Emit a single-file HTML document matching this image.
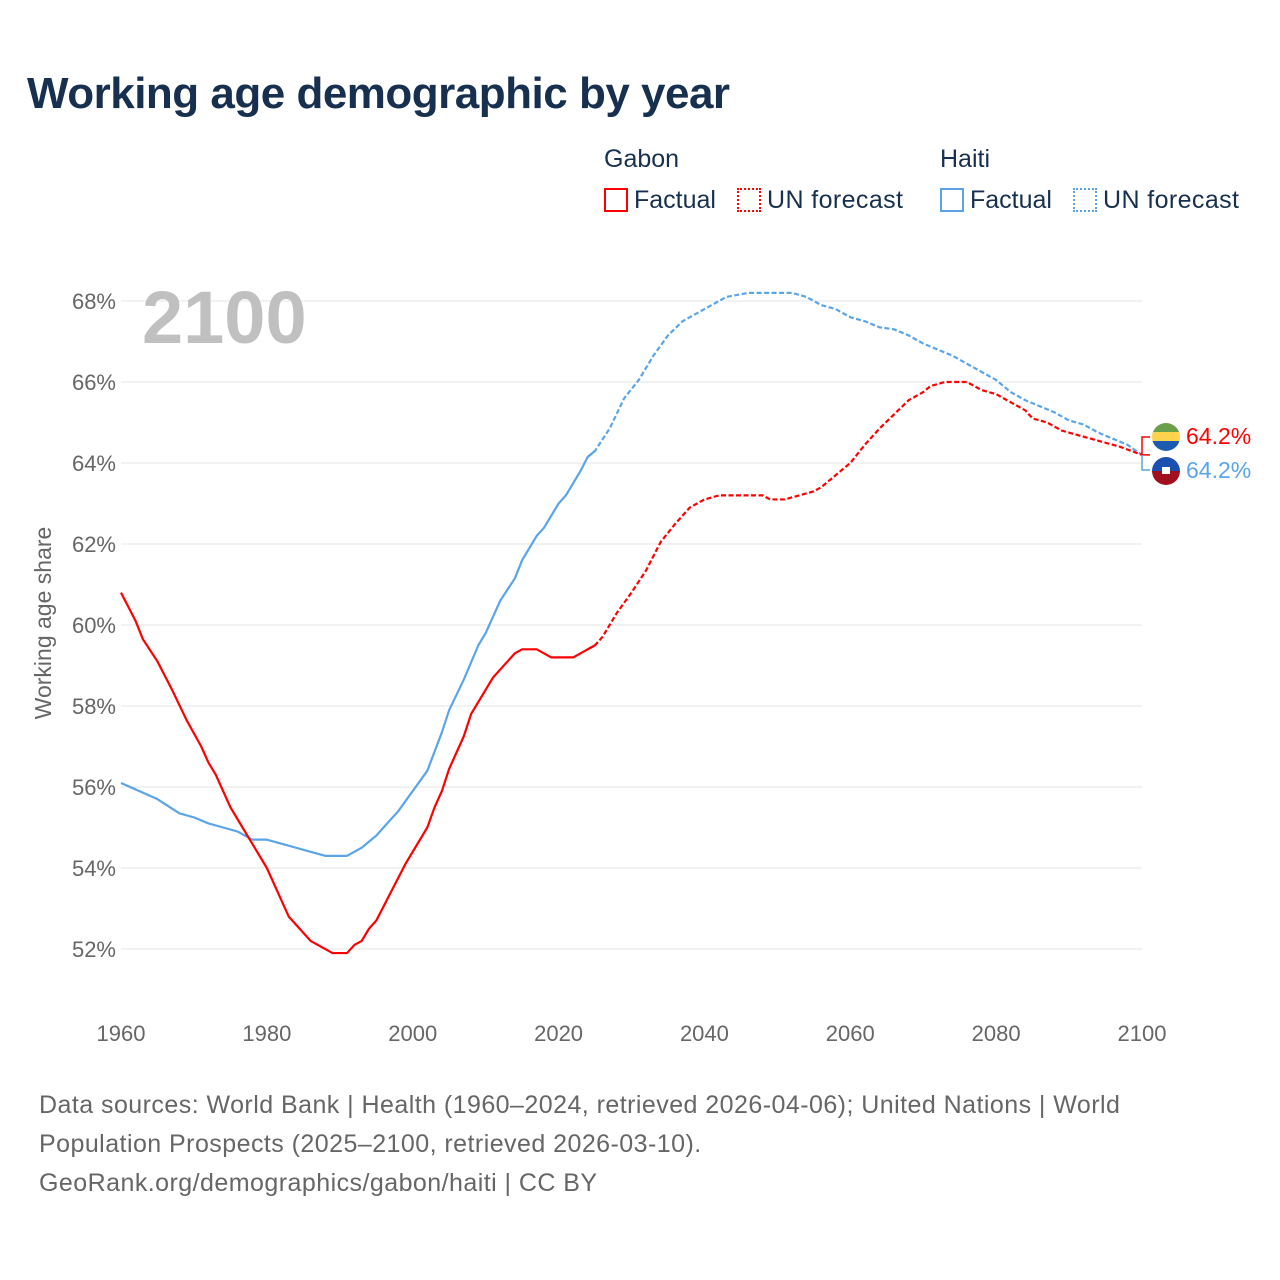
<!DOCTYPE html>
<html><head><meta charset="utf-8"><style>
body{margin:0;background:#fff;font-family:"Liberation Sans",sans-serif;}
#wrap{position:relative;width:1280px;height:1280px;overflow:hidden;}
.t{position:absolute;white-space:nowrap;}
</style></head><body>
<div id="wrap">
<div class="t" style="left:27px;top:69px;font-size:44px;font-weight:bold;color:#17304f;letter-spacing:-0.5px;">Working age demographic by year</div>
<div class="t" style="left:604px;top:145px;font-size:25px;color:#17304f;">Gabon</div>
<div class="t" style="left:940px;top:145px;font-size:25px;color:#17304f;">Haiti</div>
<div class="t" style="left:604px;top:186px;font-size:25px;color:#17304f;"><span style="display:inline-block;width:20px;height:20px;border:2px solid #f00;vertical-align:-4px;margin-right:6px;"></span>Factual</div>
<div class="t" style="left:737px;top:186px;font-size:25px;color:#17304f;letter-spacing:0.4px;"><span style="display:inline-block;width:20px;height:20px;border:2px dotted #f00;vertical-align:-4px;margin-right:6px;"></span>UN forecast</div>
<div class="t" style="left:940px;top:186px;font-size:25px;color:#17304f;"><span style="display:inline-block;width:20px;height:20px;border:2px solid #5aa5ea;vertical-align:-4px;margin-right:6px;"></span>Factual</div>
<div class="t" style="left:1073px;top:186px;font-size:25px;color:#17304f;letter-spacing:0.4px;"><span style="display:inline-block;width:20px;height:20px;border:2px dotted #5aa5ea;vertical-align:-4px;margin-right:6px;"></span>UN forecast</div>
<svg id="chart" width="1280" height="1280" style="position:absolute;left:0;top:0;"></svg>
<div class="t" style="left:39px;top:1086px;font-size:25px;line-height:39px;color:#666;letter-spacing:0.45px;">Data sources: World Bank | Health (1960–2024, retrieved 2026-04-06); United Nations | World<br>Population Prospects (2025–2100, retrieved 2026-03-10).<br>GeoRank.org/demographics/gabon/haiti | CC BY</div>
</div>
<script>
const xTicks=[1960,1980,2000,2020,2040,2060,2080,2100];
const yTicks=[52,54,56,58,60,62,64,66,68];
const gabonYears=[1960,1962,1963,1965,1966,1967,1969,1971,1972,1973,1975,1977,1980,1983,1986,1989,1991,1992,1993,1994,1995,1997,1999,2002,2003,2004,2005,2007,2008,2010,2011,2013,2014,2015,2017,2019,2021,2022,2024,2025,2026,2028,2030,2032,2034,2036,2038,2040,2042,2048,2049,2051,2053,2055,2056,2058,2060,2062,2064,2066,2068,2070,2071,2073,2076,2078,2080,2082,2084,2085,2087,2089,2091,2093,2095,2097,2100];
const gabonValues=[60.8,60.1,59.65,59.1,58.75,58.4,57.65,57.0,56.6,56.3,55.5,54.9,54.0,52.8,52.2,51.9,51.9,52.1,52.2,52.5,52.7,53.4,54.1,55.0,55.5,55.9,56.45,57.25,57.8,58.4,58.7,59.1,59.3,59.4,59.4,59.2,59.2,59.2,59.4,59.5,59.7,60.3,60.8,61.35,62.05,62.5,62.9,63.1,63.2,63.2,63.1,63.1,63.2,63.3,63.4,63.7,64.0,64.45,64.85,65.2,65.55,65.75,65.9,66.0,66.0,65.8,65.7,65.5,65.3,65.1,65.0,64.8,64.7,64.6,64.5,64.4,64.2];
const haitiYears=[1960,1965,1968,1970,1972,1974,1976,1978,1980,1982,1984,1986,1988,1991,1993,1995,1997,1998,2000,2002,2004,2005,2007,2009,2010,2012,2014,2015,2017,2018,2020,2021,2023,2024,2025,2027,2029,2031,2033,2035,2037,2040,2043,2046,2052,2054,2056,2058,2060,2062,2064,2066,2068,2070,2072,2074,2076,2078,2080,2082,2084,2086,2088,2090,2092,2094,2096,2098,2100];
const haitiValues=[56.1,55.7,55.35,55.25,55.1,55.0,54.9,54.7,54.7,54.6,54.5,54.4,54.3,54.3,54.5,54.8,55.2,55.4,55.9,56.4,57.35,57.9,58.65,59.5,59.8,60.6,61.15,61.6,62.2,62.4,63.0,63.2,63.8,64.15,64.3,64.85,65.6,66.05,66.65,67.15,67.5,67.8,68.1,68.2,68.2,68.1,67.9,67.8,67.6,67.5,67.35,67.3,67.15,66.95,66.8,66.65,66.45,66.25,66.05,65.75,65.55,65.4,65.25,65.05,64.95,64.75,64.6,64.45,64.2];
const forecastStart=2024;
const NS="http://www.w3.org/2000/svg";
const svg=document.getElementById('chart');
const X=y=>121+(y-1960)*(1142-121)/140;
const Y=v=>301+(68-v)*(949-301)/16;
function el(t,a,p){const e=document.createElementNS(NS,t);for(const k in a)e.setAttribute(k,a[k]);(p||svg).appendChild(e);return e;}
for(const v of yTicks){
 const g=el('line',{x1:121,x2:1142,y1:Y(v),y2:Y(v),stroke:'#e4e4e4','stroke-width':1});
 
 
 const t=el('text',{x:116,y:Y(v)+8,'text-anchor':'end','font-size':22,fill:'#666','font-family':'Liberation Sans, sans-serif'});
 t.textContent=v+'%';
 
 
}
for(const x of xTicks){
 const t=el('text',{x:X(x),y:1041,'text-anchor':'middle','font-size':22,fill:'#666','font-family':'Liberation Sans, sans-serif'});
 t.textContent=x;
 
 
}
const yt=el('text',{x:0,y:0,transform:'translate(51,623) rotate(-90)','text-anchor':'middle','font-size':23,fill:'#666','font-family':'Liberation Sans, sans-serif'});
yt.textContent='Working age share';


const yr=el('text',{x:142,y:343,'font-size':74,'font-weight':'bold',fill:'#c0c0c0','font-family':'Liberation Sans, sans-serif'});
yr.textContent='2100';


function series(ys,vs,color,name){
 const a=[],b=[];
 ys.forEach((y,i)=>{if(y<=forecastStart+1)a.push(X(y)+','+Y(vs[i]));if(y>=forecastStart)b.push(X(y)+','+Y(vs[i]));});
 const p1=el('polyline',{points:a.join(' '),fill:'none',stroke:color,'stroke-width':2.2,'stroke-linejoin':'round'});
 
 
 const p2=el('polyline',{points:b.join(' '),fill:'none',stroke:color,'stroke-width':2.2,'stroke-dasharray':'5 2.5'});
 
 
}
series(haitiYears,haitiValues,'#5aa5ea','haiti');
series(gabonYears,gabonValues,'#f00','gabon');
const gl=gabonValues[gabonValues.length-1],hl=haitiValues[haitiValues.length-1];
const c1=el('path',{d:`M1150 ${Y(gl)} L1142 ${Y(gl)} L1142 437 L1150 437`,fill:'none',stroke:'#f00','stroke-width':1.5});


const c2=el('path',{d:`M1142 ${Y(hl)} L1142 470 L1150 470`,fill:'none',stroke:'#5aa5ea','stroke-width':1.5});


const defs=el('defs',{});
el('clipPath',{id:'cg'},defs);el('circle',{cx:1166,cy:437,r:14},defs.lastChild);
el('clipPath',{id:'ch'},defs);el('circle',{cx:1166,cy:471,r:14},defs.lastChild);
const fg=el('g',{'clip-path':'url(#cg)'});


el('rect',{x:1152,y:423,width:28,height:10,fill:'#6aa04a'},fg);
el('rect',{x:1152,y:432,width:28,height:10,fill:'#fcd34d'},fg);
el('rect',{x:1152,y:441,width:28,height:10,fill:'#1d5bb0'},fg);
const fh=el('g',{'clip-path':'url(#ch)'});


el('rect',{x:1152,y:457,width:28,height:14,fill:'#1d4fb0'},fh);
el('rect',{x:1152,y:471,width:28,height:14,fill:'#a0101e'},fh);
el('rect',{x:1162,y:467,width:8,height:7,fill:'#fff'},fh);
const lg=el('text',{x:1186,y:444,'font-size':23,fill:'#f00','font-family':'Liberation Sans, sans-serif'});
lg.textContent=gl.toFixed(1)+'%';


const lh=el('text',{x:1186,y:478,'font-size':23,fill:'#5aa5ea','font-family':'Liberation Sans, sans-serif'});
lh.textContent=hl.toFixed(1)+'%';


</script>
</body></html>
